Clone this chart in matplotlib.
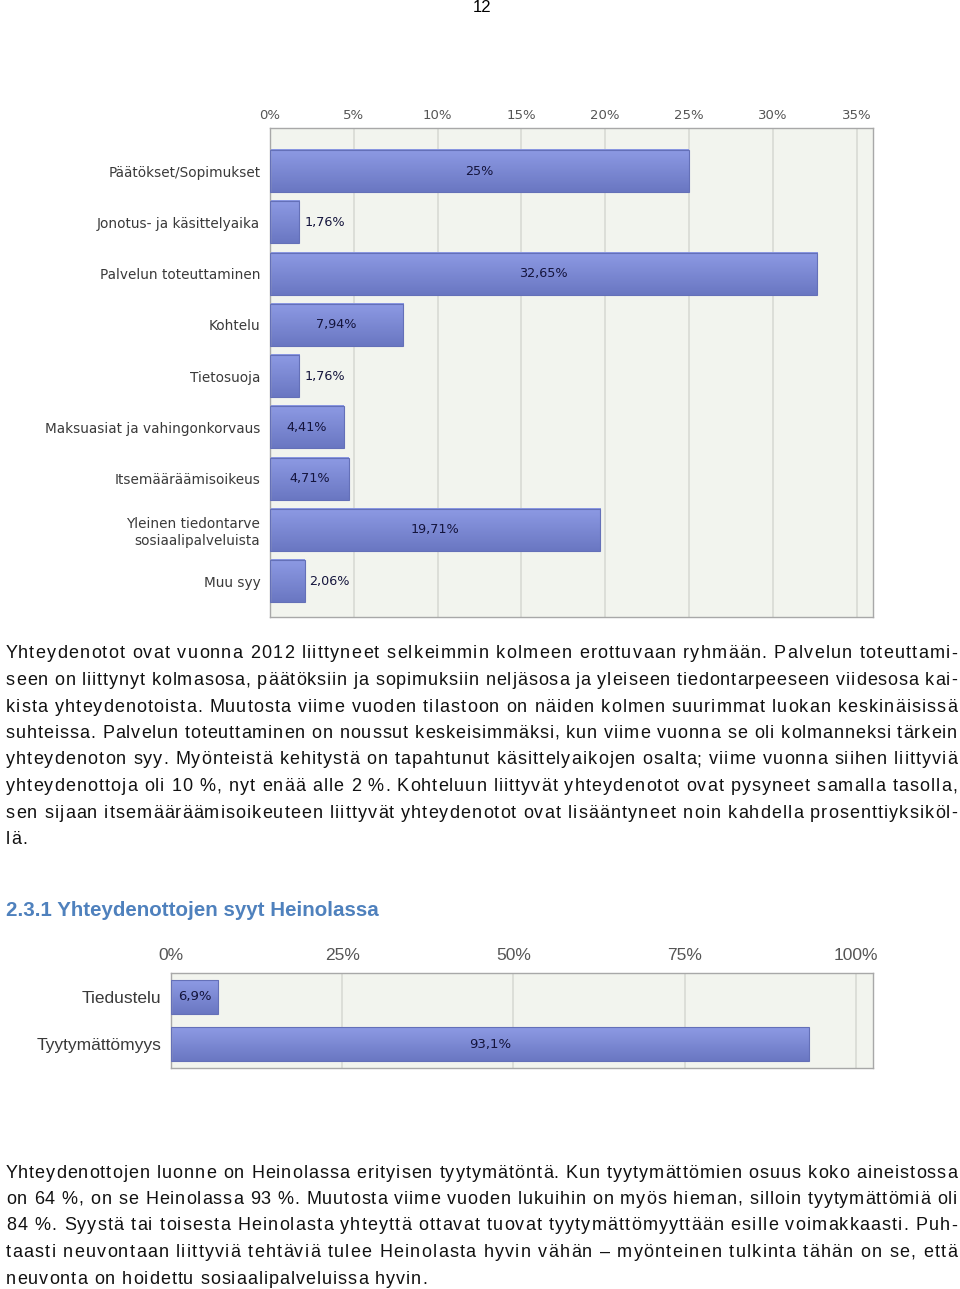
import matplotlib
matplotlib.use("Agg")
import matplotlib.pyplot as plt
from matplotlib.colors import LinearSegmentedColormap
from matplotlib.font_manager import FontProperties
import numpy as np

W, H = 960, 1289

# data
categories1 = ["Päätökset/Sopimukset", "Jonotus- ja käsittelyaika", "Palvelun toteuttaminen",
               "Kohtelu", "Tietosuoja", "Maksuasiat ja vahingonkorvaus", "Itsemääräämisoikeus",
               "Yleinen tiedontarve\nsosiaalipalveluista", "Muu syy"]
values1 = [25, 1.76, 32.65, 7.94, 1.76, 4.41, 4.71, 19.71, 2.06]
labels1 = ["25%", "1,76%", "32,65%", "7,94%", "1,76%", "4,41%", "4,71%", "19,71%", "2,06%"]
ticks1 = [0, 5, 10, 15, 20, 25, 30, 35]

categories2 = ["Tiedustelu", "Tyytymättömyys"]
values2 = [6.9, 93.1]
labels2 = ["6,9%", "93,1%"]
ticks2 = [0, 25, 50, 75, 100]

para1 = [
    "Yhteydenotot ovat vuonna 2012 liittyneet selkeimmin kolmeen erottuvaan ryhmään. Palvelun toteuttami-",
    "seen on liittynyt kolmasosa, päätöksiin ja sopimuksiin neljäsosa ja yleiseen tiedontarpeeseen viidesosa kai-",
    "kista yhteydenotoista. Muutosta viime vuoden tilastoon on näiden kolmen suurimmat luokan keskinäisissä",
    "suhteissa. Palvelun toteuttaminen on noussut keskeisimmäksi, kun viime vuonna se oli kolmanneksi tärkein",
    "yhteydenoton syy. Myönteistä kehitystä on tapahtunut käsittelyaikojen osalta; viime vuonna siihen liittyviä",
    "yhteydenottoja oli 10 %, nyt enää alle 2 %. Kohteluun liittyvät yhteydenotot ovat pysyneet samalla tasolla,",
    "sen sijaan itsemääräämisoikeuteen liittyvät yhteydenotot ovat lisääntyneet noin kahdella prosenttiyksiköl-",
    "lä.",
]
para2 = [
    "Yhteydenottojen luonne on Heinolassa erityisen tyytymätöntä. Kun tyytymättömien osuus koko aineistossa",
    "on 64 %, on se Heinolassa 93 %. Muutosta viime vuoden lukuihin on myös hieman, silloin tyytymättömiä oli",
    "84 %. Syystä tai toisesta Heinolasta yhteyttä ottavat tuovat tyytymättömyyttään esille voimakkaasti. Puh-",
    "taasti neuvontaan liittyviä tehtäviä tulee Heinolasta hyvin vähän – myönteinen tulkinta tähän on se, että",
    "neuvonta on hoidettu sosiaalipalveluissa hyvin.",
]

fig = plt.figure(figsize=(W / 100, H / 100), dpi=100)
fig.patch.set_facecolor("white")
renderer = fig.canvas.get_renderer()

barmap = LinearSegmentedColormap.from_list("bar", ["#8d9ae4", "#6a77c2"])


def bar_chart(ax, cats, vals, labs, ticks, xmax, height, pad_top, pad_bot,
              tick_font, cat_font, lab_fs, tick_pad):
    n = len(cats)
    ax.set_facecolor("#f2f4ee")
    grad = np.linspace(0, 1, 50).reshape(-1, 1)
    for i, v in enumerate(vals):
        ax.imshow(grad, cmap=barmap, aspect="auto", zorder=2,
                  extent=[0, v, i + height / 2, i - height / 2])
        ax.add_patch(plt.Rectangle((0, i - height / 2), v, height, fill=False,
                                   edgecolor="#6470b8", lw=0.8, zorder=3))
        if v < 3:
            ax.text(v + xmax * 0.008, i, labs[i], ha="left", va="center",
                    fontsize=lab_fs, color="#14143c", family="DejaVu Sans", zorder=4)
        else:
            ax.text(v / 2, i, labs[i], ha="center", va="center",
                    fontsize=lab_fs, color="#14143c", family="DejaVu Sans", zorder=4)
    ax.set_xlim(0, xmax)
    ax.set_ylim(n - 1 + pad_bot, -pad_top)
    ax.set_xticks(ticks)
    ax.set_xticklabels([f"{t}%" for t in ticks], color="#555555", **tick_font)
    ax.xaxis.tick_top()
    ax.tick_params(axis="x", length=0, pad=tick_pad)
    ax.set_yticks(range(n))
    ax.set_yticklabels(cats, color="#3a3a3a", **cat_font)
    ax.tick_params(axis="y", length=0, pad=7)
    ax.grid(axis="x", color="#d8dad4", lw=1.2, zorder=1)
    ax.set_axisbelow(True)
    for s in ax.spines.values():
        s.set_color("#a8a8a8")
        s.set_linewidth(1)


ax1 = fig.add_axes([270 / W, 1 - 617 / H, 603 / W, 489 / H])
bar_chart(ax1, categories1, values1, labels1, ticks1, 35.98, 0.82, 0.84, 0.70,
          dict(fontsize=9.5, family="DejaVu Sans"),
          dict(fontsize=9.8, family="DejaVu Sans"), 9.2, 4)

ax2 = fig.add_axes([171 / W, 1 - 1068 / H, 702 / W, 95 / H])
bar_chart(ax2, categories2, values2, labels2, ticks2, 102.5, 0.72, 0.51, 0.51,
          dict(fontsize=12.5, family="Liberation Sans"),
          dict(fontsize=12.5, family="Liberation Sans"), 9.5, 7)

# page number and heading
fig.text(482 / W, 1 - 8 / H, "12", ha="center", va="center", fontsize=12,
         family="Liberation Sans")
fig.text(6 / W, 1 - 910 / H, "2.3.1 Yhteydenottojen syyt Heinolassa", ha="left",
         va="center", fontsize=14.8, fontweight="bold", color="#4f81bd",
         family="Liberation Sans")

# body text, justified by letter spacing
prop = FontProperties(family="Liberation Sans", size=13)
base = renderer.get_text_width_height_descent("aa", prop, ismath=False)[0]


def char_w(c):
    return renderer.get_text_width_height_descent("a" + c + "a", prop, ismath=False)[0] - base


def justify(line, y, last=False, x0=6, x1=957):
    widths = [char_w(c) for c in line]
    if last:
        extra = 1.0
    else:
        extra = (x1 - x0 - sum(widths)) / (len(line) - 1)
    x = x0
    yb = 1 - (y + 6.5) / H  # baseline
    for c, w in zip(line, widths):
        if c != " ":
            fig.text(x / W, yb, c, ha="left", va="baseline",
                     fontproperties=prop, color="#111111")
        x += w + extra


for k, line in enumerate(para1):
    justify(line, 652 + k * 26.5, last=(k == len(para1) - 1))
for k, line in enumerate(para2):
    justify(line, 1171 + k * 26.5, last=(k == len(para2) - 1))

fig.savefig("out.png", dpi=100)
